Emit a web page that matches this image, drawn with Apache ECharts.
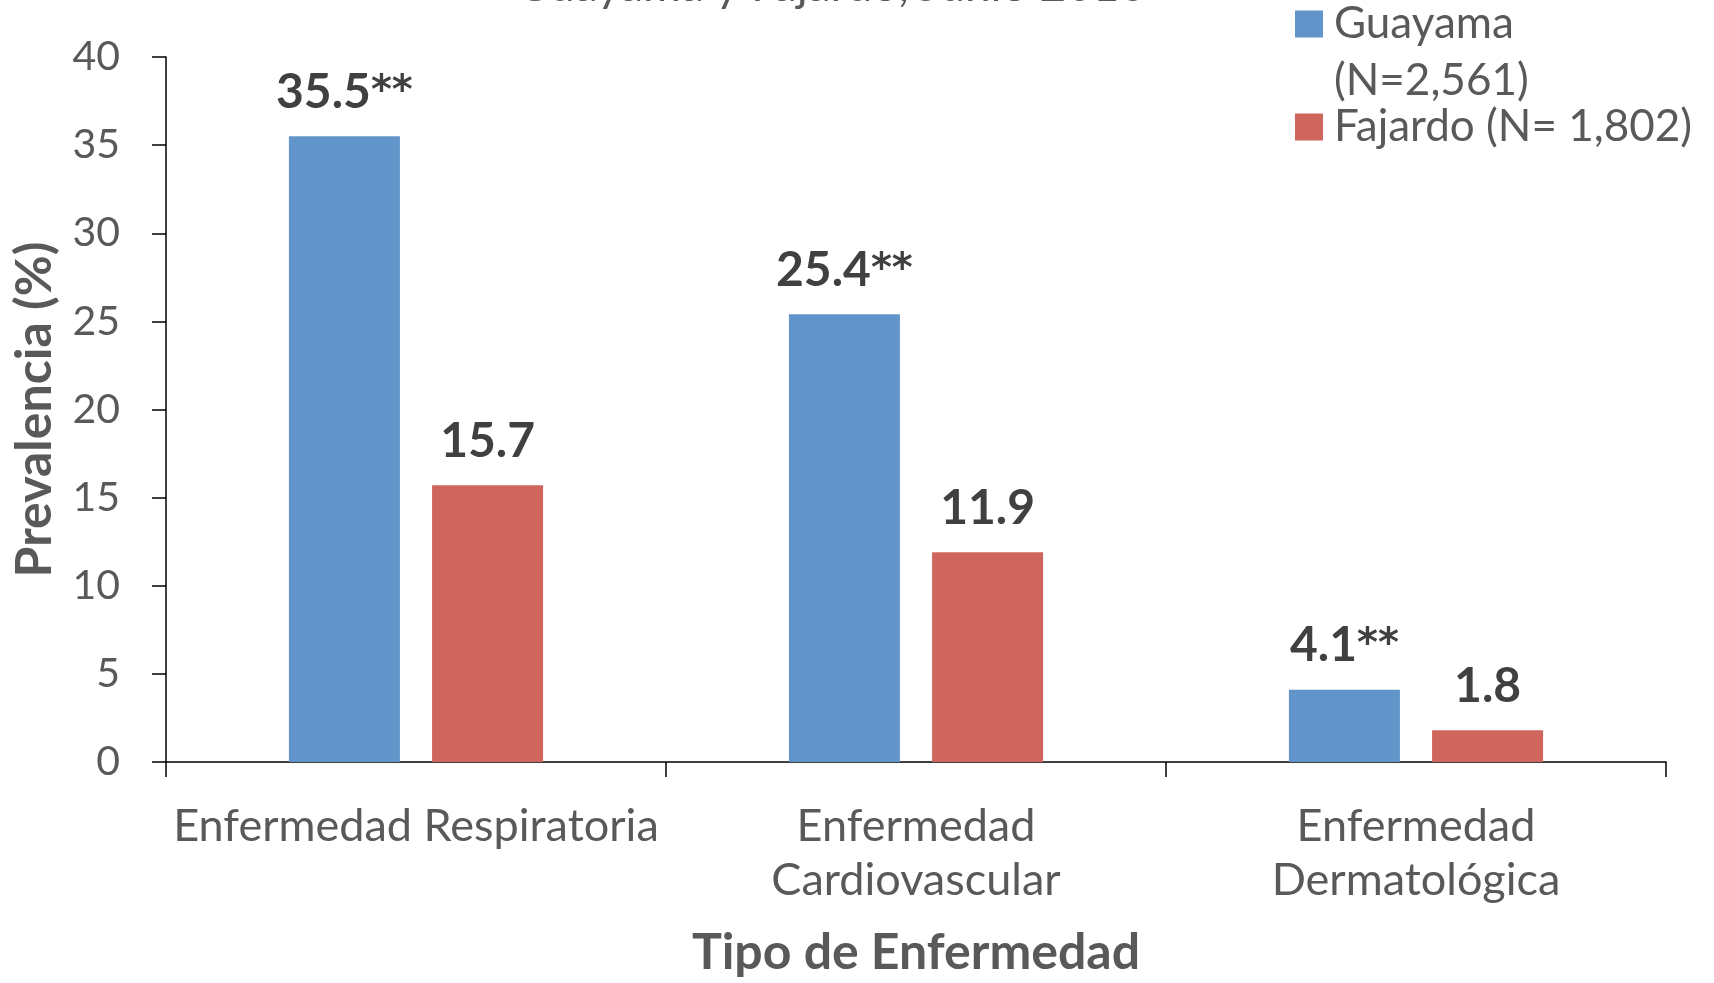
<!DOCTYPE html>
<html>
<head>
<meta charset="utf-8">
<script src="https://cdn.jsdelivr.net/npm/echarts@6/dist/echarts.min.js"></script>
<style>
  html, body { margin: 0; padding: 0; background: #fff; }
  #chart { width: 1714px; height: 983px; }
</style>
</head>
<body>
<div id="chart"></div>
<script>
const categories = ['Enfermedad Respiratoria', 'Enfermedad\nCardiovascular', 'Enfermedad\nDermatológica']
const guayama = [35.5, 25.4, 4.1]
const fajardo = [15.7, 11.9, 1.8]
const guayamaSignif = [true, true, true]
const yTicks = { min: 0, max: 40, interval: 5 }

const FONT = 'Lato'
const GREY = '#595959'
const DARK = '#404040'

const chart = echarts.init(document.getElementById('chart'))

// rich styles so the ** come out big like in the original
const labelRich = {
  v: { fontFamily: FONT, fontSize: 48, fontWeight: 'bold', color: DARK },
  s: { fontFamily: 'DejaVu Sans', fontSize: 40, fontWeight: 'bold', color: DARK }
}

// legend text: an empty first line pushes "Guayama" level with its square
function legendText(name) {
  const lines = name.split('\n')
  if (lines.length > 1) lines.unshift(' ')
  return lines.map((l) => '{t|' + l + '}').join('\n')
}

const option = {
  animation: false,
  backgroundColor: '#fff',
  textStyle: { fontFamily: FONT },
  title: {
    text: 'Guayama y Fajardo, Junio 2010',
    left: 831,
    textAlign: 'center',
    top: -37,
    padding: 0,
    textStyle: { fontFamily: FONT, fontSize: 46, fontWeight: 'normal', color: GREY }
  },
  legend: {
    orient: 'vertical',
    left: 1295,
    top: -55,
    padding: 0,
    itemWidth: 28,
    itemHeight: 27,
    itemGap: 2,
    icon: 'rect',
    formatter: legendText,
    data: [
      {
        name: 'Guayama\n(N=2,561)',
        textStyle: { rich: { t: { fontFamily: FONT, fontSize: 44, color: GREY, lineHeight: 57, padding: [0, 0, 0, 6] } } }
      },
      {
        name: 'Fajardo (N= 1,802)',
        textStyle: { rich: { t: { fontFamily: FONT, fontSize: 44, color: GREY, lineHeight: 44, padding: [0, 0, 0, 6] } } }
      }
    ]
  },
  grid: { left: 166, right: 48, top: 57, bottom: 218, containLabel: false },
  xAxis: {
    type: 'category',
    data: categories,
    name: 'Tipo de Enfermedad',
    nameLocation: 'middle',
    nameGap: 166,
    nameTextStyle: { fontFamily: FONT, fontSize: 50, fontWeight: 'bold', color: GREY },
    axisLine: { lineStyle: { color: '#000', width: 1.5 } },
    axisTick: { show: true, length: 15, lineStyle: { color: '#000', width: 1.5 } },
    axisLabel: { fontFamily: FONT, fontSize: 45, lineHeight: 54, color: GREY, margin: 37, interval: 0 }
  },
  yAxis: {
    type: 'value',
    min: yTicks.min,
    max: yTicks.max,
    interval: yTicks.interval,
    name: 'Prevalencia (%)',
    nameLocation: 'middle',
    nameRotate: 90,
    nameGap: 106,
    nameTextStyle: { fontFamily: FONT, fontSize: 50, fontWeight: 'bold', color: GREY },
    splitLine: { show: false },
    axisLine: { show: true, lineStyle: { color: '#000', width: 1.5 } },
    axisTick: { show: true, length: 14, lineStyle: { color: '#000', width: 1.5 } },
    axisLabel: { fontFamily: FONT, fontSize: 41, color: GREY, margin: 46 }
  },
  series: [
    {
      name: 'Guayama\n(N=2,561)',
      type: 'bar',
      data: guayama,
      barWidth: 111,
      barGap: '29%',
      itemStyle: { color: '#6195C9' },
      label: {
        show: true,
        position: 'top',
        distance: 20,
        rich: labelRich,
        formatter: (p) => '{v|' + p.value + '}' + (guayamaSignif[p.dataIndex] ? '{s|**}' : '')
      }
    },
    {
      name: 'Fajardo (N= 1,802)',
      type: 'bar',
      data: fajardo,
      barWidth: 111,
      barGap: '29%',
      itemStyle: { color: '#CE665E' },
      label: {
        show: true,
        position: 'top',
        distance: 20,
        fontFamily: FONT,
        fontSize: 48,
        fontWeight: 'bold',
        color: DARK
      }
    }
  ]
}

chart.setOption(option)
</script>
</body>
</html>
